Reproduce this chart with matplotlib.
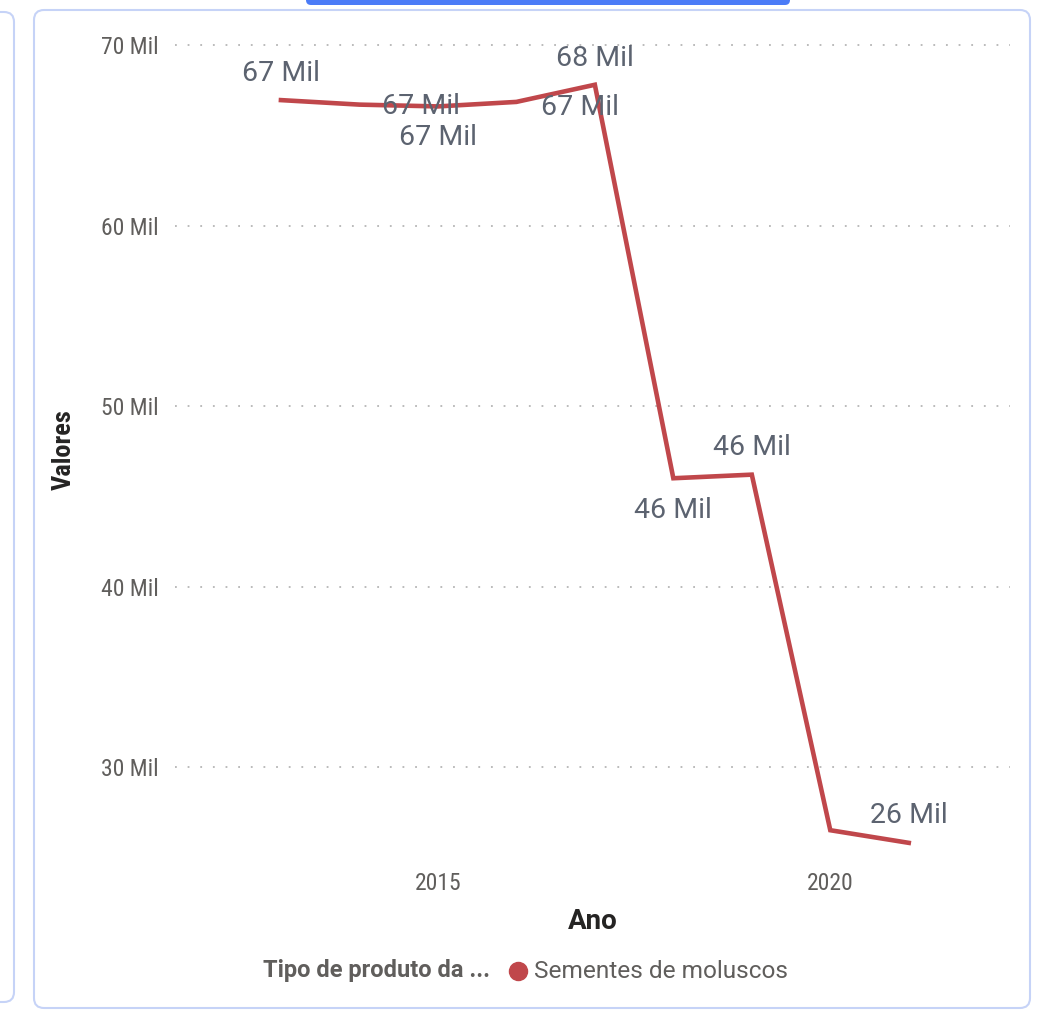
import matplotlib
matplotlib.use('Agg')
import matplotlib.pyplot as plt
import matplotlib.patches as mpatches
from matplotlib.transforms import IdentityTransform
from matplotlib.lines import Line2D
from matplotlib import font_manager

# ---- data (values in thousands, "Mil") ----
years = [2013, 2014, 2015, 2016, 2017, 2018, 2019, 2020, 2021]
values = [66.95, 66.7, 66.6, 66.85, 67.8, 46.0, 46.2, 26.5, 25.8]
point_labels = ["67 Mil", "67 Mil", "67 Mil", "67 Mil", "68 Mil", "46 Mil", "46 Mil", "", "26 Mil"]
y_ticks = [30, 40, 50, 60, 70]
y_tick_labels = ["30 Mil", "40 Mil", "50 Mil", "60 Mil", "70 Mil"]
x_ticks = [2015, 2020]
x_tick_labels = ["2015", "2020"]
series_name = "Sementes de moluscos"
legend_title = "Tipo de produto da ..."

# label offsets in pixels (layout only)
label_offsets = [(0, 27), (62, -2), (0, -31), (64, -6), (0, 26), (0, -32), (0, 27), (0, 0), (0, 27)]

W, H = 1038, 1014
fig = plt.figure(figsize=(W / 100, H / 100), dpi=100)
fig.patch.set_facecolor('white')

avail = {f.name for f in font_manager.fontManager.ttflist}
cond = None
for cand in ['Roboto Condensed', 'DejaVu Sans Condensed', 'Liberation Sans Narrow']:
    if cand in avail:
        cond = cand
        break
if cond is None:
    cond = 'DejaVu Sans'
reg = 'Roboto' if 'Roboto' in avail else 'DejaVu Sans'

ax_left, ax_right, ax_top, ax_bottom = 175, 1010, 40, 860
ax = fig.add_axes([ax_left / W, 1 - ax_bottom / H, (ax_right - ax_left) / W, (ax_bottom - ax_top) / H])

line_color = '#C0474B'
ax.plot(years, values, color=line_color, lw=3.3, solid_joinstyle='miter', zorder=3)

ax.set_xlim(2011.65, 2022.29)
ax.set_ylim(24.85, 70.28)

for sp in ax.spines.values():
    sp.set_visible(False)

ax.set_yticks(y_ticks)
ax.set_yticklabels(y_tick_labels)
ax.set_xticks(x_ticks)
ax.set_xticklabels(x_tick_labels)
ax.tick_params(length=0)
ax.tick_params(axis='y', pad=12, labelsize=17, labelcolor='#605E5C')
ax.tick_params(axis='x', pad=9, labelsize=17, labelcolor='#605E5C')
for t in ax.get_xticklabels() + ax.get_yticklabels():
    t.set_family(cond)

ax.yaxis.grid(True, linestyle=(0, (1, 6)), color='#B5B5B5', lw=1.3)
ax.set_axisbelow(True)

for x, v, lab, off in zip(years, values, point_labels, label_offsets):
    if lab:
        ax.annotate(lab, (x, v), xytext=off, textcoords='offset pixels',
                    ha='center', va='center', fontsize=20.5, color='#5C6370',
                    family=reg, zorder=4)

ax.set_xlabel('Ano', fontsize=20, fontweight='bold', color='#252423', family=reg, labelpad=9)
ax.set_ylabel('Valores', fontsize=19, fontweight='bold', color='#252423', family=cond, labelpad=18)

# legend (figure-level)
fig.text(490 / W, 1 - 971 / H, legend_title, ha='right', va='center', fontsize=17,
         fontweight='bold', color='#605E5C', family=reg)
fig.add_artist(Line2D([518 / W], [1 - 971 / H], marker='o', markersize=13,
                      color=line_color, transform=fig.transFigure, linestyle='none'))
fig.text(534 / W, 1 - 971 / H, series_name, ha='left', va='center', fontsize=17.6,
         color='#605E5C', family=reg)

# card border
border = mpatches.FancyBboxPatch((34, H - 1008), 996, 998,
                                 boxstyle="round,pad=0,rounding_size=10",
                                 transform=IdentityTransform(), fill=False,
                                 edgecolor='#C6D3F7', lw=1.5)
fig.add_artist(border)
left_panel = mpatches.FancyBboxPatch((-200, H - 1002), 214, 990,
                                     boxstyle="round,pad=0,rounding_size=10",
                                     transform=IdentityTransform(), fill=False,
                                     edgecolor='#C6D3F7', lw=1.5)
fig.add_artist(left_panel)
top_bar = mpatches.FancyBboxPatch((306, H - 5), 484, 20,
                                  boxstyle="round,pad=0,rounding_size=5",
                                  transform=IdentityTransform(), facecolor='#4A7BF7',
                                  edgecolor='none')
fig.add_artist(top_bar)

fig.savefig('out.png', dpi=100, facecolor='white')
